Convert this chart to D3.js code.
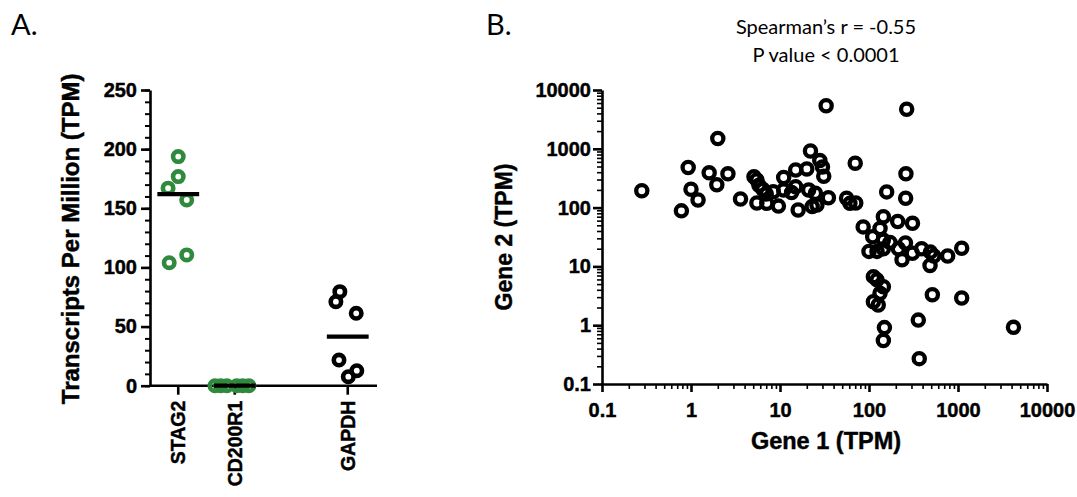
<!DOCTYPE html>
<html><head><meta charset="utf-8">
<script src="https://cdn.jsdelivr.net/npm/d3@7"></script>
<style>body{margin:0;background:#fff}svg{display:block}</style>
</head><body><svg id="c" width="1077" height="497"></svg>
<script>
// ---------- Panel A data ----------
const categoriesA = ["STAG2", "CD200R1", "", "GAPDH"];
const yTicksA = [0, 50, 100, 150, 200, 250];
const stag2Values = [193.7, 176.8, 167, 157, 110.6, 104];
const stag2Jitter = [0, 0, -0.18, 0.15, 0.15, -0.16];
const cd200r1Values = [0, 0, 0, 0, 0, 0];
const cd200r1Jitter = [-0.35, -0.25, -0.14, 0.035, 0.14, 0.25];
const gapdhValues = [79.5, 71, 61.2, 21.7, 12.7, 7.6];
const gapdhJitter = [-0.14, -0.21, 0.15, -0.155, 0.16, 0.01];

// ---------- Panel B data ----------
const gene1 = [0.28,0.78,0.93,1.0,1.2,2.0,1.6,1.95,2.6,3.6,5.1,5.5,5.8,6.4,7.0,5.5,7.1,9.6,11,11,13.5,15,15,16,20,21,23,25,26,22,28,30,31,33,35,56,61,71,70,8.4,
  265,260,158,258,86,145,133,210,308,110,145,172,100,123,145,257,214,235,307,390,490,535,485,765,1100,112,123,145,133,112,127,515,1100,358,149,145,367,4200];
const gene2 = [194,88,480,205,135,1500,390,245,375,140,335,295,240,205,170,120,118,106,325,200,180,435,227,91,455,200,104,175,111,920,630,490,340,5400,147,144,118,120,570,186,
  4700,375,185,144,47,70,44,58,54,32,28,25.5,18,18,20,25,20,13,16.7,20,17.5,15,10.4,15,20.3,6.7,5.9,4.5,3.5,2.5,2.2,3.3,2.9,1.22,0.91,0.55,0.27,0.92];
const logTicksB = [0.1, 1, 10, 100, 1000, 10000];
const titleLinesB = ["Spearman\u2019s r = -0.55", "P value < 0.0001"];

const GREEN = "#2f8a3d";
const BOLD = "'Liberation Sans', Arial, sans-serif";
const LIGHT = "Lato, 'Open Sans', sans-serif";

const svg = d3.select("#c");

function boldText(sel, size) {
  sel.attr("fill", "#000").attr("font-family", BOLD).attr("font-weight", "bold")
    .attr("font-size", size).attr("stroke", "#000").attr("stroke-width", 0.45);
}
function styleAxis(g, w) {
  g.selectAll("path, line").attr("stroke", "#000").attr("stroke-width", w);
  boldText(g.selectAll("text"), 20);
}

// ================= Panel A =================
const yA = d3.scaleLinear().domain([0, 250]).range([385.7, 90]);
const xA = d3.scaleBand().domain(categoriesA).range([150, 376]);
const cx = c => xA(c) + xA.bandwidth() / 2;

svg.append("g").attr("transform", "translate(150,0)")
  .call(d3.axisLeft(yA).tickValues(d3.range(0, 251, 10)).tickSize(5).tickFormat("").tickSizeOuter(0))
  .call(g => { g.select(".domain").remove(); styleAxis(g, 2); });
const gyA = svg.append("g").attr("transform", "translate(150,0)")
  .call(d3.axisLeft(yA).tickValues(yTicksA).tickSize(9).tickPadding(4).tickSizeOuter(0));
styleAxis(gyA, 2.6);

const gxA = svg.append("g").attr("transform", `translate(0,${yA(0)})`)
  .call(d3.axisBottom(xA).tickValues(categoriesA.filter(d => d)).tickSize(9).tickSizeOuter(0).tickPadding(6));
gxA.select(".domain").attr("d", `M150,0H377`);
styleAxis(gxA, 2.6);
gxA.selectAll(".tick text").attr("transform", "rotate(-90)").attr("text-anchor", "end")
  .attr("x", -15).attr("y", 0).attr("dy", "0.36em").attr("font-size", 19.5);

const groupsA = [
  { cat: "STAG2", vals: stag2Values, jit: stag2Jitter, color: GREEN },
  { cat: "CD200R1", vals: cd200r1Values, jit: cd200r1Jitter, color: GREEN },
  { cat: "GAPDH", vals: gapdhValues, jit: gapdhJitter, color: "#000" }
];
groupsA.forEach(gr => {
  svg.append("g").selectAll("circle").data(gr.vals).join("circle")
    .attr("cx", (d, i) => cx(gr.cat) + gr.jit[i] * xA.step())
    .attr("cy", d => yA(d))
    .attr("r", 5.2).attr("fill", "none").attr("stroke", gr.color).attr("stroke-width", 4.6);
});
groupsA.forEach(gr => {
  const m = d3.median(gr.vals);
  svg.append("line").attr("x1", cx(gr.cat) - 0.37 * xA.step()).attr("x2", cx(gr.cat) + 0.37 * xA.step())
    .attr("y1", yA(m)).attr("y2", yA(m)).attr("stroke", "#000").attr("stroke-width", 4.2);
});

boldText(svg.append("text").attr("transform", `translate(79,${(yA(0) + yA(250)) / 2 + 1}) rotate(-90)`)
  .attr("text-anchor", "middle").text("Transcripts Per Million (TPM)"), 24);

svg.append("text").attr("x", 11).attr("y", 35).attr("font-family", LIGHT).attr("font-size", 29).text("A.");

// ================= Panel B =================
const xB = d3.scaleLog().domain([0.1, 10000]).range([602, 1047]);
const yB = d3.scaleLog().domain([0.1, 10000]).range([384, 90]);
const minorB = xB.ticks().filter(v => !logTicksB.some(t => Math.abs(t - v) < 1e-9));
const fmt = v => String(v);

svg.append("g").attr("transform", "translate(602,0)")
  .call(d3.axisLeft(yB).tickValues(minorB).tickSize(5).tickFormat("").tickSizeOuter(0))
  .call(g => { g.select(".domain").remove(); styleAxis(g, 1.6); });
const gyB = svg.append("g").attr("transform", "translate(602,0)")
  .call(d3.axisLeft(yB).tickValues(logTicksB).tickFormat(fmt).tickSize(9).tickPadding(2).tickSizeOuter(0));
styleAxis(gyB, 2.6);

svg.append("g").attr("transform", "translate(0,384)")
  .call(d3.axisBottom(xB).tickValues(minorB).tickSize(5).tickFormat("").tickSizeOuter(0))
  .call(g => { g.select(".domain").remove(); styleAxis(g, 1.6); });
const gxB = svg.append("g").attr("transform", "translate(0,384)")
  .call(d3.axisBottom(xB).tickValues(logTicksB).tickFormat(fmt).tickSize(8).tickPadding(11).tickSizeOuter(0));
styleAxis(gxB, 2.6);

svg.append("g").selectAll("circle").data(gene1.map((g, i) => [g, gene2[i]])).join("circle")
  .attr("cx", d => xB(d[0])).attr("cy", d => yB(d[1]))
  .attr("r", 5.6).attr("fill", "none").attr("stroke", "#000").attr("stroke-width", 4.3);

boldText(svg.append("text").attr("transform", `translate(512,${(yB(0.1) + yB(10000)) / 2}) rotate(-90)`)
  .attr("text-anchor", "middle").text("Gene 2 (TPM)"), 23);
boldText(svg.append("text").attr("x", 826).attr("y", 449)
  .attr("text-anchor", "middle").text("Gene 1 (TPM)"), 23.5);

svg.append("g").selectAll("text").data(titleLinesB).join("text")
  .attr("x", 826).attr("y", (d, i) => 34 + i * 27.5).attr("text-anchor", "middle")
  .attr("font-family", LIGHT).attr("font-size", 20).text(d => d);

svg.append("text").attr("x", 486).attr("y", 35).attr("font-family", LIGHT).attr("font-size", 29).text("B.");
</script></body></html>
